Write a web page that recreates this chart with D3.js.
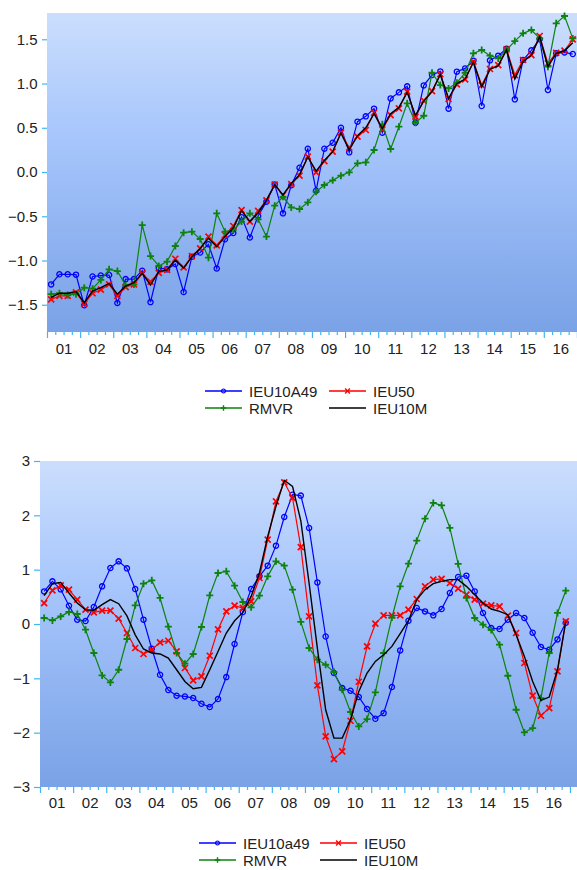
<!DOCTYPE html>
<meta charset="utf-8">
<head>
  <script src="https://d3js.org/d3.v7.min.js"></script>
  <style>
    body { margin: 0; background: #fff; }
    svg text { font-family: "Liberation Sans", Arial, sans-serif; font-size: 15px; fill: #222; }
  </style>
</head>
<body>
  <div id="chart"></div>
  <script>
    // year labels, quarterly data 2001Q1 - 2016Q4
    var years = ["01","02","03","04","05","06","07","08","09","10","11","12","13","14","15","16"];

    // upper panel
    var topIEU10A49 = [-1.27,-1.156,-1.156,-1.16,-1.506,-1.18,-1.17,-1.164,-1.48,-1.21,-1.21,-1.115,-1.47,-1.085,-1.1,-1.04,
      -1.356,-0.957,-0.91,-0.817,-1.09,-0.76,-0.69,-0.51,-0.74,-0.497,-0.335,-0.14,-0.467,-0.15,0.049,0.263,
      -0.211,0.263,0.331,0.501,0.222,0.569,0.629,0.716,0.444,0.832,0.9,0.968,0.558,0.979,1.096,1.137,
      0.716,1.134,1.171,1.258,0.746,1.262,1.315,1.394,0.821,1.266,1.375,1.5,0.927,1.341,1.352,1.333];
    var topIEU50 = [-1.44,-1.40,-1.40,-1.36,-1.49,-1.37,-1.33,-1.27,-1.40,-1.30,-1.27,-1.145,-1.24,-1.14,-1.107,-0.98,
      -1.077,-0.95,-0.863,-0.73,-0.83,-0.712,-0.61,-0.43,-0.56,-0.44,-0.32,-0.143,-0.26,-0.136,-0.041,0.173,
      -0.004,0.124,0.23,0.444,0.275,0.399,0.475,0.67,0.482,0.644,0.719,0.908,0.625,0.806,0.915,1.107,
      0.825,0.99,1.047,1.247,0.983,1.164,1.209,1.386,1.096,1.266,1.322,1.537,1.228,1.348,1.371,1.5];
    var topRMVR = [-1.38,-1.37,-1.39,-1.38,-1.307,-1.318,-1.22,-1.1,-1.119,-1.28,-1.27,-0.6,-0.95,-1.062,-1.013,-0.836,
      -0.685,-0.674,-0.757,-0.968,-0.467,-0.674,-0.655,-0.56,-0.467,-0.535,-0.73,-0.38,-0.28,-0.4,-0.418,-0.343,
      -0.222,-0.147,-0.094,-0.041,-0.004,0.098,0.109,0.249,0.539,0.26,0.512,0.776,0.557,0.636,1.122,0.983,
      0.945,1.009,1.122,1.341,1.379,1.315,1.284,1.379,1.48,1.567,1.605,1.51,1.19,1.68,1.763,1.51];
    var topIEU10M = [-1.416,-1.37,-1.37,-1.35,-1.477,-1.345,-1.307,-1.258,-1.38,-1.288,-1.25,-1.145,-1.277,-1.126,-1.107,-0.994,
      -1.088,-0.957,-0.863,-0.75,-0.844,-0.73,-0.63,-0.437,-0.56,-0.46,-0.32,-0.143,-0.26,-0.13,-0.03,0.17,
      0.01,0.13,0.23,0.44,0.25,0.41,0.5,0.66,0.49,0.66,0.73,0.9,0.64,0.8,0.91,1.1,
      0.83,1.0,1.05,1.24,0.96,1.16,1.2,1.38,1.05,1.25,1.32,1.53,1.19,1.34,1.37,1.46];

    // lower panel
    var botIEU10a49 = [0.6,0.785,0.638,0.337,0.079,0.055,0.313,0.693,1.03,1.153,1.024,0.644,0.08,-0.455,-0.934,-1.216,
      -1.32,-1.333,-1.363,-1.468,-1.529,-1.381,-0.977,-0.368,0.22,0.644,0.877,1.074,1.442,1.97,2.38,2.363,
      1.768,0.766,-0.23,-0.902,-1.18,-1.228,-1.344,-1.565,-1.744,-1.64,-1.16,-0.486,0.06,0.295,0.232,0.159,
      0.276,0.571,0.866,0.89,0.6,0.203,-0.074,-0.092,0.079,0.203,0.11,-0.16,-0.424,-0.473,-0.283,0.024];
    var botIEU50 = [0.386,0.619,0.711,0.632,0.448,0.263,0.214,0.245,0.245,0.098,-0.166,-0.442,-0.552,-0.473,-0.339,-0.308,
      -0.505,-0.81,-1.039,-0.965,-0.584,-0.1,0.232,0.337,0.295,0.416,0.847,1.552,2.258,2.608,2.32,1.415,
      0.14,-1.131,-2.07,-2.486,-2.346,-1.781,-1.063,-0.412,0.006,0.159,0.159,0.159,0.263,0.46,0.693,0.816,
      0.829,0.755,0.65,0.54,0.448,0.374,0.343,0.324,0.153,-0.166,-0.718,-1.32,-1.689,-1.547,-0.873,0.048];
    var botRMVR = [0.11,0.066,0.14,0.221,0.184,-0.105,-0.534,-0.947,-1.075,-0.842,-0.276,0.343,0.742,0.803,0.479,-0.05,
      -0.534,-0.731,-0.552,-0.055,0.527,0.939,0.969,0.705,0.405,0.306,0.521,0.877,1.153,1.074,0.632,0.04,
      -0.442,-0.657,-0.75,-0.884,-1.21,-1.62,-1.886,-1.75,-1.26,-0.534,0.12,0.693,1.11,1.534,1.939,2.228,
      2.184,1.768,1.105,0.479,0.11,-0.013,-0.11,-0.381,-0.952,-1.578,-1.996,-1.915,-1.363,-0.534,0.203,0.613];
    var botIEU10M = [0.521,0.742,0.766,0.571,0.386,0.263,0.251,0.355,0.448,0.374,0.15,-0.2,-0.46,-0.534,-0.552,-0.626,
      -0.842,-1.057,-1.19,-1.167,-0.842,-0.505,-0.166,0.06,0.214,0.508,0.939,1.613,2.166,2.645,2.534,1.9,
      0.75,-0.45,-1.578,-2.1,-2.1,-1.762,-1.24,-0.902,-0.688,-0.565,-0.412,-0.178,0.06,0.448,0.632,0.742,
      0.785,0.816,0.816,0.693,0.54,0.386,0.276,0.232,0.171,-0.2,-0.596,-1.057,-1.407,-1.344,-0.842,0.048];

    var topTicks = [-1.5, -1.0, -0.5, 0.0, 0.5, 1.0, 1.5];
    var botTicks = [-3, -2, -1, 0, 1, 2, 3];

    var W = 577, H = 870;
    var qw = 8.28;
    var tickColor = "#3db8f2";

    var svg = d3.select("#chart")
      .append("svg")
      .attr("width", W)
      .attr("height", H);

    var grad = svg.append("defs").append("linearGradient")
      .attr("id", "bg").attr("x1", 0).attr("y1", 0).attr("x2", 0).attr("y2", 1);
    grad.append("stop").attr("offset", "0%").attr("stop-color", "#cbdefd");
    grad.append("stop").attr("offset", "40%").attr("stop-color", "#a6c5fc");
    grad.append("stop").attr("offset", "100%").attr("stop-color", "#7aa2e6");

    var markers = {
      circle: function (g) {
        g.append("circle").attr("r", 2.6).attr("fill", "none").attr("stroke", "#0000ff").attr("stroke-width", 1.3);
      },
      cross: function (g) {
        g.append("path").attr("d", "M-3,-3L3,3M-3,3L3,-3").attr("stroke", "#ff0000").attr("stroke-width", 1.7);
      },
      plus: function (g) {
        g.append("path").attr("d", "M-3.5,0H3.5M0,-3.5V3.5").attr("stroke", "#0d820d").attr("stroke-width", 1.8);
      }
    };

    function drawPanel(p) {
      var x = d3.scaleLinear().domain([0, p.nq]).range([p.left, p.left + p.nq * qw]);
      var y = d3.scaleLinear().domain(p.yDomain).range([p.bottom, p.top]);

      svg.append("rect")
        .attr("x", p.left).attr("y", p.top)
        .attr("width", W - p.left).attr("height", p.bottom - p.top)
        .attr("fill", "url(#bg)");

      // y axis
      var ya = svg.append("g")
        .attr("transform", "translate(" + p.left + ",0)")
        .call(d3.axisLeft(y).tickValues(p.yTicks).tickSize(p.ytick).tickPadding(p.ypad).tickFormat(p.yFormat));
      ya.select(".domain").remove();
      ya.selectAll("line").attr("stroke", tickColor).attr("stroke-width", 1.2);
      ya.selectAll("text").attr("font-size", 15).attr("fill", "#222");

      // quarter ticks
      var xa = svg.append("g")
        .attr("transform", "translate(0," + p.bottom + ")")
        .call(d3.axisBottom(x).tickValues(d3.range(0, p.nq + 1)).tickSize(3).tickFormat(""));
      xa.select(".domain").remove();
      xa.selectAll("line")
        .attr("stroke", tickColor)
        .attr("stroke-width", 1.2)
        .attr("y2", function (d) { return d % 4 === 0 ? 6 : 3; });

      // year labels
      var xl = svg.append("g")
        .attr("transform", "translate(0," + p.bottom + ")")
        .call(d3.axisBottom(x).tickValues(years.map(function (d, i) { return i * 4 + 2; }))
          .tickSize(0).tickPadding(p.xpad).tickFormat(function (d) { return years[(d - 2) / 4]; }));
      xl.select(".domain").remove();
      xl.selectAll("text").attr("font-size", 15).attr("fill", "#222");

      var line = d3.line()
        .x(function (d, i) { return x(i + 0.5); })
        .y(function (d) { return y(d); });

      p.series.forEach(function (s) {
        svg.append("path")
          .datum(s.values)
          .attr("fill", "none")
          .attr("stroke", s.color)
          .attr("stroke-width", s.width || 1.2)
          .attr("d", line);
        if (s.marker) {
          svg.append("g").selectAll("g")
            .data(s.values)
            .enter()
            .append("g")
            .attr("transform", function (d, i) { return "translate(" + x(i + 0.5) + "," + y(d) + ")"; })
            .each(function () { markers[s.marker](d3.select(this)); });
        }
      });

      // legend, two columns
      p.series.forEach(function (s, k) {
        var col = k % 2, row = Math.floor(k / 2);
        var x0 = p.legend.cols[col], yy = p.legend.rows[row];
        var g = svg.append("g");
        g.append("line")
          .attr("x1", x0).attr("x2", x0 + 37).attr("y1", yy).attr("y2", yy)
          .attr("stroke", s.color).attr("stroke-width", 2).attr("opacity", 0.75);
        if (s.marker) {
          var m = g.append("g").attr("transform", "translate(" + (x0 + 18.5) + "," + yy + ")");
          markers[s.marker](m);
          m.selectAll("*").attr("transform", "scale(0.8)");
        }
        g.append("text")
          .attr("x", x0 + 44).attr("y", yy + 5.5)
          .text(s.name);
      });
    }

    drawPanel({
      left: 47, top: 13, bottom: 332, nq: 64,
      yDomain: [-1.808, 1.797], yTicks: topTicks, yFormat: d3.format(".1f"),
      ytick: 5, ypad: 4.5, xpad: 11,
      series: [
        { name: "IEU10A49", values: topIEU10A49, color: "#0000ff", marker: "circle" },
        { name: "IEU50", values: topIEU50, color: "#ff0000", marker: "cross" },
        { name: "RMVR", values: topRMVR, color: "#0d820d", marker: "plus" },
        { name: "IEU10M", values: topIEU10M, color: "#000000", width: 1.4 }
      ],
      legend: { cols: [205, 329], rows: [391, 408] }
    });

    drawPanel({
      left: 40, top: 461, bottom: 787, nq: 65,
      yDomain: [-3, 3], yTicks: botTicks, yFormat: d3.format("d"),
      ytick: 6, ypad: 4, xpad: 10,
      series: [
        { name: "IEU10a49", values: botIEU10a49, color: "#0000ff", marker: "circle" },
        { name: "IEU50", values: botIEU50, color: "#ff0000", marker: "cross" },
        { name: "RMVR", values: botRMVR, color: "#0d820d", marker: "plus" },
        { name: "IEU10M", values: botIEU10M, color: "#000000", width: 1.4 }
      ],
      legend: { cols: [199, 320], rows: [843, 860] }
    });
  </script>
</body>
</html>
